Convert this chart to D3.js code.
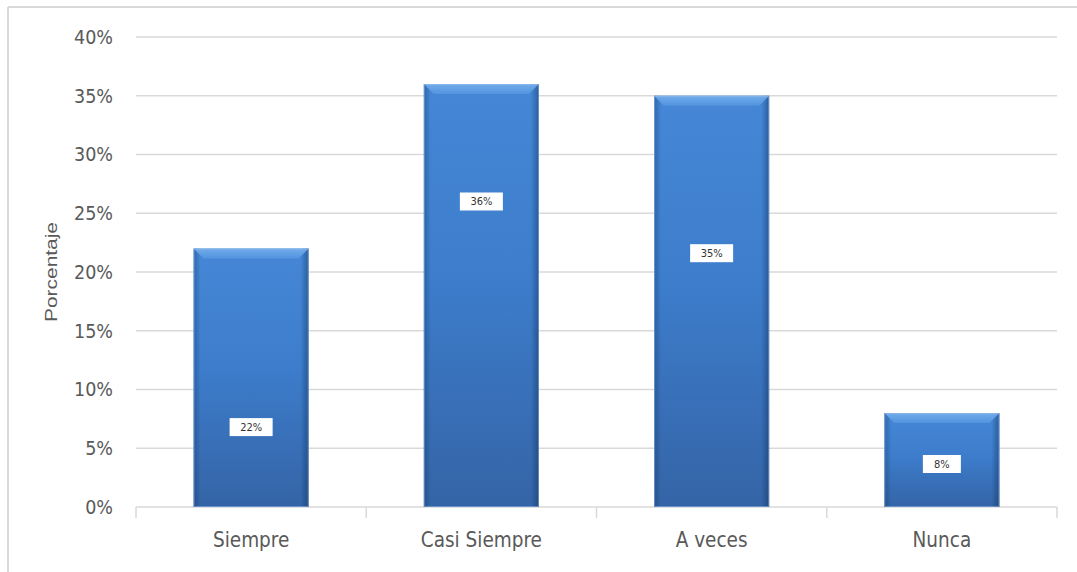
<!DOCTYPE html>
<html>
<head>
<meta charset="utf-8">
<script src="https://cdn.jsdelivr.net/npm/d3@7/dist/d3.min.js"></script>
<style>
  html, body { margin: 0; padding: 0; background: #ffffff; }
  svg { display: block; }
</style>
</head>
<body>
<svg id="chart" width="1077" height="572"></svg>
<script>
// ---- data ----
const categories = ["Siempre", "Casi Siempre", "A veces", "Nunca"];
const values = [0.22, 0.36, 0.35, 0.08];
const valueLabels = ["22%", "36%", "35%", "8%"];
// where each value label box sits, in data units
const labelAnchors = [0.068, 0.26, 0.216, 0.0366];
const yTicks = [0, 0.05, 0.10, 0.15, 0.20, 0.25, 0.30, 0.35, 0.40];
const yTitle = "Porcentaje";

// ---- layout ----
const W = 1077, H = 572;
const plot = { left: 136, right: 1057, top: 37, bottom: 507 };
const tickFont = "'DejaVu Sans Condensed', 'Liberation Sans Narrow', sans-serif";

const svg = d3.select("#chart");
const defs = svg.append("defs");

const x = d3.scaleBand().domain(categories)
  .range([plot.left, plot.right]).paddingInner(0.5).paddingOuter(0.25);
const y = d3.scaleLinear().domain([0, 0.4]).range([plot.bottom, plot.top]);

// frame lines (top & left)
svg.append("line").attr("x1", 8).attr("x2", W).attr("y1", 7).attr("y2", 7)
  .attr("stroke", "#d9d9d9").attr("stroke-width", 2);
svg.append("line").attr("x1", 8).attr("x2", 8).attr("y1", 7).attr("y2", H)
  .attr("stroke", "#d9d9d9").attr("stroke-width", 2);

// gridlines
svg.append("g").selectAll("line").data(yTicks.filter(t => t > 0)).join("line")
  .attr("x1", plot.left).attr("x2", plot.right)
  .attr("y1", d => y(d)).attr("y2", d => y(d))
  .attr("stroke", "#d9d9d9").attr("stroke-width", 1.5);

// y axis labels
const yAxis = d3.axisLeft(y).tickValues(yTicks).tickFormat(d3.format(".0%"))
  .tickSize(0).tickPadding(23);
const yg = svg.append("g").attr("transform", `translate(${plot.left},0)`).call(yAxis);
yg.select(".domain").remove();
yg.selectAll("text").attr("font-family", tickFont).attr("font-size", 19.5)
  .attr("fill", "#595959");

// x baseline + category ticks
const boundaries = d3.range(categories.length + 1).map(i => plot.left + i * x.step());
svg.append("line").attr("x1", plot.left).attr("x2", plot.right)
  .attr("y1", y(0)).attr("y2", y(0)).attr("stroke", "#d9d9d9").attr("stroke-width", 1.5);
svg.append("g").selectAll("line").data(boundaries).join("line")
  .attr("x1", d => d).attr("x2", d => d)
  .attr("y1", y(0)).attr("y2", y(0) + 11)
  .attr("stroke", "#d9d9d9").attr("stroke-width", 1.5);

// gradients for bars
const vg = defs.append("linearGradient").attr("id", "barV")
  .attr("x1", 0).attr("y1", 0).attr("x2", 0).attr("y2", 1);
vg.append("stop").attr("offset", "0%").attr("stop-color", "#4587d6");
vg.append("stop").attr("offset", "45%").attr("stop-color", "#3d7dcc");
vg.append("stop").attr("offset", "100%").attr("stop-color", "#3464a6");

const hg = defs.append("linearGradient").attr("id", "barH")
  .attr("x1", 0).attr("y1", 0).attr("x2", 1).attr("y2", 0);
hg.append("stop").attr("offset", "0%").attr("stop-color", "#0a2a55").attr("stop-opacity", 0.35);
hg.append("stop").attr("offset", "6%").attr("stop-color", "#0a2a55").attr("stop-opacity", 0);
hg.append("stop").attr("offset", "93%").attr("stop-color", "#0a2a55").attr("stop-opacity", 0);
hg.append("stop").attr("offset", "100%").attr("stop-color", "#0a2a55").attr("stop-opacity", 0.45);

const bg = defs.append("linearGradient").attr("id", "bevel")
  .attr("x1", 0).attr("y1", 0).attr("x2", 0).attr("y2", 1);
bg.append("stop").attr("offset", "0%").attr("stop-color", "#7ab3ee");
bg.append("stop").attr("offset", "100%").attr("stop-color", "#5596e0");

const bars = svg.append("g").selectAll("g").data(categories).join("g");
bars.append("rect")
  .attr("x", d => x(d)).attr("y", (d, i) => y(values[i]))
  .attr("width", x.bandwidth()).attr("height", (d, i) => y(0) - y(values[i]))
  .attr("fill", "url(#barV)");
bars.append("rect")
  .attr("x", d => x(d)).attr("y", (d, i) => y(values[i]))
  .attr("width", x.bandwidth()).attr("height", (d, i) => y(0) - y(values[i]))
  .attr("fill", "url(#barH)");
const bev = 10;
bars.append("polygon")
  .attr("points", (d, i) => {
    const x0 = x(d), x1 = x(d) + x.bandwidth(), y0 = y(values[i]);
    return [[x0, y0], [x1, y0], [x1 - bev, y0 + bev], [x0 + bev, y0 + bev]].join(" ");
  })
  .attr("fill", "url(#bevel)").attr("opacity", 0.85);
bars.append("rect")
  .attr("x", d => x(d) + 0.5).attr("y", (d, i) => y(values[i]) + 0.5)
  .attr("width", x.bandwidth() - 1).attr("height", (d, i) => y(0) - y(values[i]) - 1)
  .attr("fill", "none").attr("stroke", "#9cc2ee").attr("stroke-opacity", 0.5).attr("stroke-width", 1);

// value labels
const lab = svg.append("g").selectAll("g").data(categories).join("g")
  .attr("transform", (d, i) => `translate(${x(d) + x.bandwidth() / 2},${y(labelAnchors[i])})`);
lab.append("rect").attr("x", (d, i) => -(valueLabels[i].length * 5 + 28) / 2)
  .attr("y", -9).attr("width", (d, i) => valueLabels[i].length * 5 + 28).attr("height", 18)
  .attr("fill", "#ffffff");
lab.append("text").text((d, i) => valueLabels[i])
  .attr("text-anchor", "middle").attr("dy", "0.35em")
  .attr("font-family", tickFont).attr("font-size", 11).attr("fill", "#333333");

// category labels
svg.append("g").selectAll("text").data(categories).join("text")
  .attr("x", d => x(d) + x.bandwidth() / 2).attr("y", 547)
  .attr("text-anchor", "middle")
  .attr("font-family", tickFont).attr("font-size", 20.5).attr("fill", "#595959")
  .text(d => d);

// y title
svg.append("text").attr("transform", "translate(57,272) rotate(-90)")
  .attr("text-anchor", "middle")
  .attr("font-family", "'Liberation Sans', Arial, sans-serif").attr("font-size", 17)
  .attr("textLength", 100).attr("lengthAdjust", "spacingAndGlyphs")
  .attr("fill", "#595959").text(yTitle);
</script>
</body>
</html>
